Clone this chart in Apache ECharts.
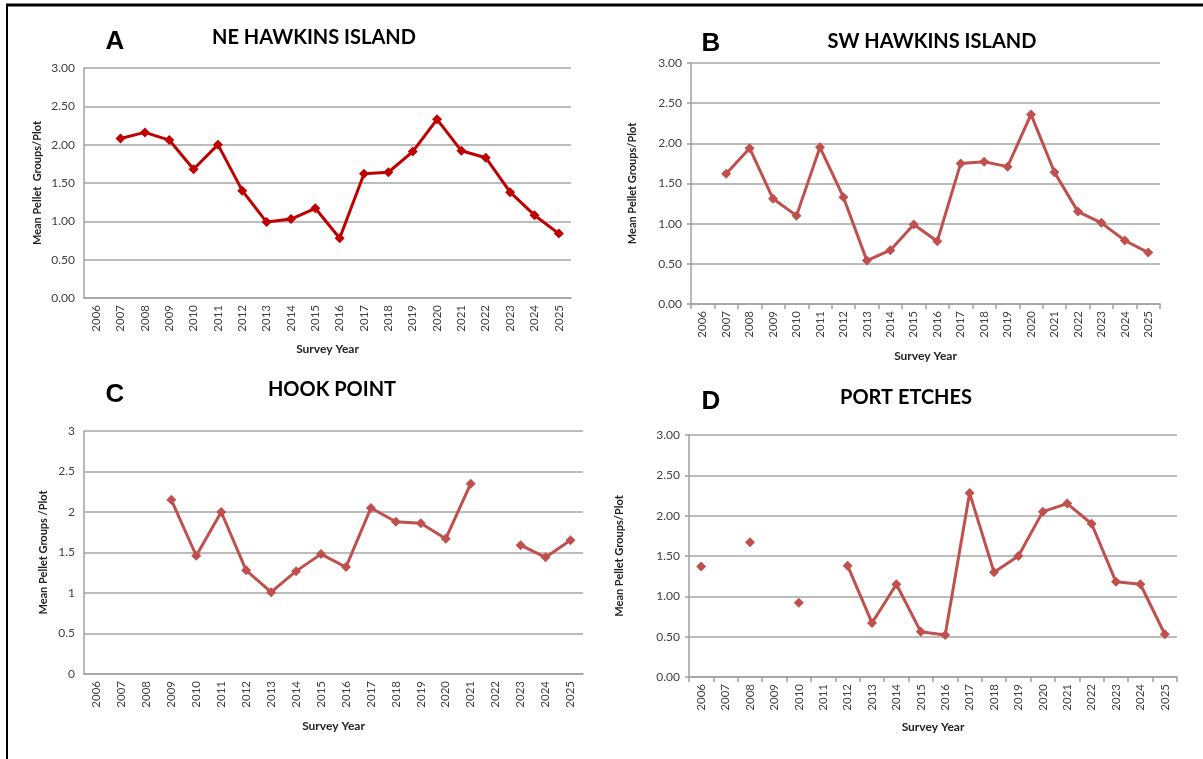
<!DOCTYPE html>
<html lang="en">
<head>
    <meta charset="UTF-8">
    <title>Mean Pellet Groups per Plot</title>
    <style type="text/css">
        *{
            margin: 0;
            padding: 0;
        }
        #main{
            width: 1203px;
            height: 759px;
            position: absolute;
            background: #fff;
        }
    </style>
</head>
<body>
    <div id="main"></div>
    <script src="https://cdn.jsdelivr.net/npm/echarts@6/dist/echarts.min.js"></script>
    <script type="text/javascript">
        var years = ['2006', '2007', '2008', '2009', '2010', '2011', '2012', '2013', '2014', '2015',
                     '2016', '2017', '2018', '2019', '2020', '2021', '2022', '2023', '2024', '2025'];

        // A - NE Hawkins Island
        var neHawkins = [null, 2.08, 2.16, 2.06, 1.68, 2.00, 1.40, 0.99, 1.03, 1.17,
                         0.78, 1.62, 1.64, 1.91, 2.33, 1.92, 1.83, 1.38, 1.08, 0.84];
        // B - SW Hawkins Island
        var swHawkins = [null, 1.62, 1.94, 1.31, 1.10, 1.95, 1.33, 0.54, 0.67, 0.99,
                         0.78, 1.75, 1.77, 1.71, 2.36, 1.64, 1.15, 1.01, 0.79, 0.64];
        // C - Hook Point
        var hookPoint = [null, null, null, 2.15, 1.46, 2.00, 1.28, 1.01, 1.27, 1.48,
                         1.32, 2.05, 1.88, 1.86, 1.67, 2.35, null, 1.59, 1.44, 1.65];
        // D - Port Etches
        var portEtches = [1.37, null, 1.67, null, 0.92, null, 1.38, 0.67, 1.15, 0.56,
                          0.52, 2.28, 1.30, 1.50, 2.05, 2.15, 1.90, 1.18, 1.15, 0.53];

        var panels = [
            {letter: 'A', title: 'NE HAWKINS ISLAND', data: neHawkins, color: '#c00000',
             yName: 'Mean Pellet  Groups/Plot', fixed: true, ticks: false,
             grid: {left: 84, top: 68, width: 487, height: 230}, yGap: 41, xGap: 45,
             titlePos: [314, 38], letterPos: [115, 42]},
            {letter: 'B', title: 'SW HAWKINS ISLAND', data: swHawkins, color: '#c0504d',
             yName: 'Mean Pellet Groups/Plot', fixed: true, ticks: true,
             grid: {left: 691, top: 63, width: 469, height: 241}, yGap: 53, xGap: 46,
             titlePos: [932, 42], letterPos: [711, 44]},
            {letter: 'C', title: 'HOOK POINT', data: hookPoint, color: '#c0504d',
             yName: 'Mean Pellet Groups /Plot', fixed: false, ticks: false,
             grid: {left: 84, top: 431, width: 499, height: 243}, yGap: 35, xGap: 46,
             titlePos: [332, 390], letterPos: [115, 395]},
            {letter: 'D', title: 'PORT ETCHES', data: portEtches, color: '#c0504d',
             yName: 'Mean Pellet Groups/Plot', fixed: true, ticks: true,
             grid: {left: 689, top: 435, width: 488, height: 242}, yGap: 64, xGap: 44,
             titlePos: [906, 398], letterPos: [711, 402]}
        ];

        var myChart = echarts.init(document.getElementById('main'), null, {renderer: 'canvas'});

        var grids = [], xAxes = [], yAxes = [], series = [];
        var graphics = [
            // frame
            {type: 'line', shape: {x1: 6, y1: 5, x2: 1203, y2: 5}, style: {stroke: '#000', lineWidth: 3}},
            {type: 'line', shape: {x1: 7, y1: 5, x2: 7, y2: 759}, style: {stroke: '#000', lineWidth: 2}}
        ];

        panels.forEach(function (p, i) {
            grids.push(p.grid);
            xAxes.push({
                type: 'category',
                gridIndex: i,
                data: years,
                boundaryGap: true,
                name: 'Survey Year',
                nameLocation: 'middle',
                nameGap: p.xGap,
                nameTextStyle: {fontFamily: 'Lato', fontWeight: 'bold', fontSize: 12, color: '#222'},
                axisLine: {lineStyle: {color: '#a0a0a0', width: 1.5}},
                axisTick: {show: p.ticks, length: 5, lineStyle: {color: '#a0a0a0', width: 1.5}},
                axisLabel: {rotate: 90, fontFamily: 'Lato', fontSize: 11.5, color: '#404040', margin: 7, interval: 0}
            });
            yAxes.push({
                type: 'value',
                gridIndex: i,
                min: 0,
                max: 3,
                interval: 0.5,
                name: p.yName,
                nameLocation: 'middle',
                nameGap: p.yGap,
                nameTextStyle: {fontFamily: 'Lato', fontWeight: 'bold', fontSize: 11, color: '#222'},
                axisLine: {show: true, lineStyle: {color: '#a0a0a0', width: 1.5}},
                axisTick: {show: p.ticks, length: 4, lineStyle: {color: '#a0a0a0', width: 1.5}},
                splitLine: {lineStyle: {color: '#a6a6a6', width: 1.5}},
                axisLabel: {
                    fontFamily: 'Lato', fontSize: 12, color: '#404040', margin: 9,
                    formatter: p.fixed ? function (v) { return v.toFixed(2); } : null
                }
            });
            series.push({
                type: 'line',
                xAxisIndex: i,
                yAxisIndex: i,
                data: p.data,
                connectNulls: false,
                symbol: 'diamond',
                symbolSize: 10,
                showAllSymbol: true,
                lineStyle: {color: p.color, width: 3},
                itemStyle: {color: p.color},
                animation: false
            });
            graphics.push({
                type: 'text', x: p.titlePos[0], y: p.titlePos[1],
                style: {text: p.title, fill: '#000', font: 'bold 20px Lato', textAlign: 'center', textVerticalAlign: 'middle'}
            });
            graphics.push({
                type: 'text', x: p.letterPos[0], y: p.letterPos[1],
                style: {text: p.letter, fill: '#000', font: 'bold 26px "Liberation Sans"', textAlign: 'center', textVerticalAlign: 'middle'}
            });
        });

        var option = {
            animation: false,
            backgroundColor: '#fff',
            grid: grids,
            xAxis: xAxes,
            yAxis: yAxes,
            series: series,
            graphic: graphics
        };

        myChart.setOption(option);
    </script>
</body>
</html>
